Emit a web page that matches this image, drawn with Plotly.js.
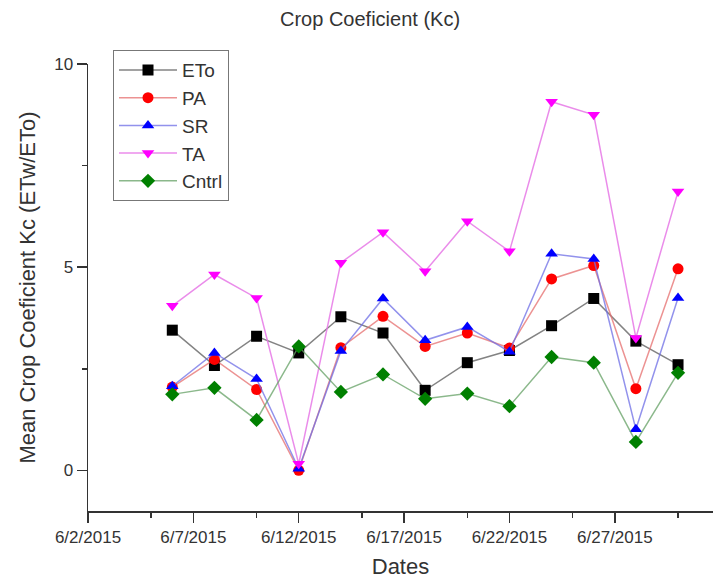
<!DOCTYPE html>
<html>
<head>
<meta charset="utf-8">
<script src="https://cdn.plot.ly/plotly-3.0.1.min.js"></script>
<style>html,body{margin:0;padding:0;background:#fff;}#chart{width:713px;height:581px;}</style>
</head>
<body>
<div id="chart"></div>
<script>
// Data
const dates = ['2015-06-06','2015-06-08','2015-06-10','2015-06-12','2015-06-14','2015-06-16','2015-06-18','2015-06-20','2015-06-22','2015-06-24','2015-06-26','2015-06-28','2015-06-30'];
const ETo   = [3.45, 2.58, 3.30, 2.89, 3.78, 3.38, 1.97, 2.65, 2.95, 3.56, 4.23, 3.18, 2.60];
const PA    = [2.05, 2.73, 1.99, 0.00, 3.02, 3.79, 3.05, 3.38, 3.01, 4.71, 5.04, 2.01, 4.96];
const SR    = [2.07, 2.89, 2.25, 0.04, 2.94, 4.23, 3.20, 3.53, 2.92, 5.33, 5.20, 1.01, 4.24];
const TA    = [4.05, 4.82, 4.24, 0.16, 5.11, 5.86, 4.90, 6.13, 5.39, 9.07, 8.75, 3.26, 6.86];
const Cntrl = [1.87, 2.03, 1.24, 3.05, 1.93, 2.36, 1.76, 1.89, 1.58, 2.79, 2.65, 0.70, 2.40];
const seriesNames = ['ETo','PA','SR','TA','Cntrl'];

const seriesData = [ETo, PA, SR, TA, Cntrl];
const markerColors = ['#000000','#ff0000','#0000ff','#ff00ff','#008000'];
const lineColors = ['rgba(90,90,90,0.75)','rgba(230,110,110,0.75)','rgba(110,110,230,0.75)','rgba(230,120,230,0.85)','rgba(100,160,100,0.75)'];
const symbols = ['square','circle','triangle-up','triangle-down','diamond'];

const traces = seriesNames.map((n, i) => ({
  type: 'scatter', mode: 'lines+markers', name: n,
  x: dates, y: seriesData[i],
  line: {color: lineColors[i], width: 1.5},
  marker: {color: markerColors[i], symbol: symbols[i], size: 11, line: {width: 0}}
}));

const DAY = 86400000;
const font = 'Arial, "Liberation Sans", sans-serif';
const layout = {
  width: 713, height: 581,
  margin: {l: 88, r: 0, t: 64, b: 70},
  paper_bgcolor: '#fff', plot_bgcolor: '#fff',
  font: {family: font, color: '#333'},
  title: {text: 'Crop Coeficient (Kc)', font: {size: 20, color: '#333'}, xref: 'container', x: 0.519, xanchor: 'center', yref: 'container', y: 0.968, yanchor: 'middle'},
  showlegend: true,
  legend: {x: 0.04, y: 1.031, xanchor: 'left', yanchor: 'top', bordercolor: '#777', borderwidth: 1, bgcolor: '#fff', font: {size: 19, color: '#333'}, itemwidth: 58, tracegroupgap: 0},
  xaxis: {
    type: 'date', range: ['2015-06-02', '2015-07-01 15:50'],
    tick0: '2015-06-02', dtick: 5 * DAY, tickformat: '%-m/%-d/%Y',
    ticks: 'outside', ticklen: 10, tickwidth: 1.5, tickcolor: '#333',
    minor: {tick0: '2015-06-05', dtick: 5 * DAY, ticks: 'outside', ticklen: 5, tickwidth: 1.5, tickcolor: '#333'},
    showline: true, linecolor: '#333', linewidth: 1.5, showgrid: false, zeroline: false,
    tickfont: {size: 17, color: '#333'},
    title: {text: 'Dates', font: {size: 22, color: '#333'}, standoff: 12}
  },
  yaxis: {
    range: [-1, 10], tick0: 0, dtick: 5,
    ticks: 'outside', ticklen: 10, tickwidth: 1.5, tickcolor: '#333',
    minor: {dtick: 2.5, ticks: 'outside', ticklen: 5, tickwidth: 1.5, tickcolor: '#333'},
    showline: true, linecolor: '#333', linewidth: 1.5, showgrid: false, zeroline: false,
    tickfont: {size: 17, color: '#333'},
    title: {text: 'Mean Crop Coeficient Kc (ETw/ETo)', font: {size: 22, color: '#333'}, standoff: 12}
  }
};
Plotly.newPlot('chart', traces, layout, {displayModeBar: false, staticPlot: true});
</script>
</body>
</html>
